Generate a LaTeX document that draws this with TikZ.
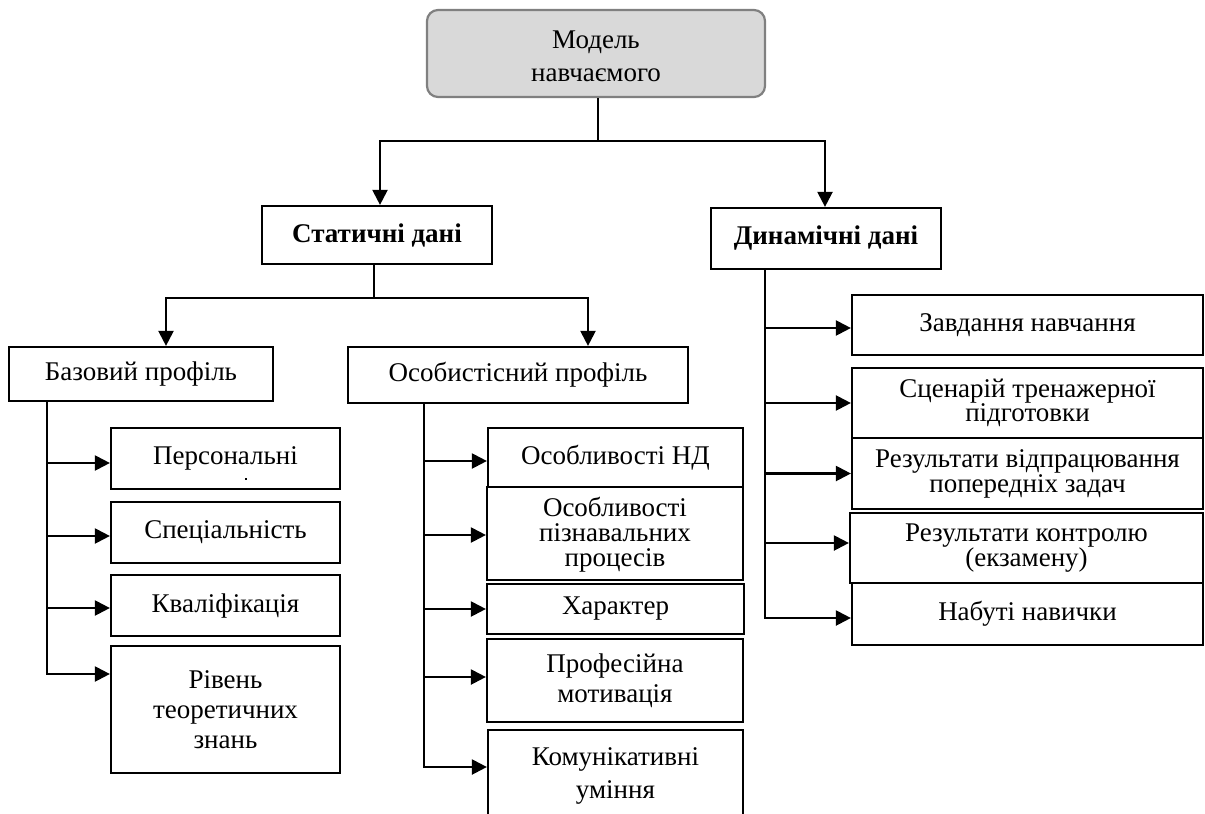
\documentclass[tikz,border=0pt]{standalone}
\usepackage{fontspec}
\setmainfont{Liberation Serif}
\usetikzlibrary{arrows.meta,calc}
\begin{document}
\begin{tikzpicture}[x=1pt,y=-1pt,
  box/.style={draw=black, line width=2.2pt, rectangle, inner sep=0pt, align=center,
    font=\fontsize{27}{30}\selectfont},
  topbox/.style={draw=black!50, fill=black!15, line width=2.2pt, rounded corners=11pt, inner sep=0pt, align=center,
    font=\fontsize{27}{33}\selectfont},
  bbox/.style={box, font=\fontsize{27}{30}\selectfont\bfseries},
  arr/.style={-{Triangle[length=15pt,width=15pt]}, line width=2.2pt},
  ls/.style={font=\fontsize{27}{#1}\selectfont}
]
\useasboundingbox (0,0) rectangle (1205,814);
\clip (0,0) rectangle (1205,814);

% top
\node[topbox, minimum width=338pt, minimum height=87pt] (top) at (596,53.5) {\raisebox{-5pt}[\height][\depth]{\begin{tabular}{@{}c@{}}Модель\\навчаємого\end{tabular}}};
\node[bbox, minimum width=230pt, minimum height=58pt] (stat) at (377,235) {Статичні дані};
\node[bbox, minimum width=230pt, minimum height=61pt] (dyn) at (826,238.5) {Динамічні дані};

% second level
\node[box, minimum width=264pt, minimum height=54pt] (baz) at (141,374) {Базовий профіль};
\node[box, minimum width=340pt, minimum height=56pt] (osob) at (518,375) {Особистісний профіль};

% left column
\node[box, minimum width=229pt, minimum height=61pt] (pers) at (225.5,458.5) {\raisebox{3pt}{Персональні}};
\fill (245,478) rectangle (247,480);
\node[box, minimum width=229pt, minimum height=61pt] (spec) at (225.5,532.5) {Спеціальність};
\node[box, minimum width=229pt, minimum height=61pt] (kval) at (225.5,605.5) {Кваліфікація};
\node[box, ls=30, minimum width=229pt, minimum height=127pt] (rivn) at (225.5,709.5) {Рівень\\теоретичних\\знань};

% middle column
\node[box, ls=25, minimum width=255pt, minimum height=59pt] (nd) at (615.5,457.5) {Особливості НД};
\node[box, ls=25, minimum width=256pt, minimum height=93pt] (pizn) at (615,533.5) {\raisebox{-2pt}[\height][\depth]{\begin{tabular}{@{}c@{}}Особливості\\пізнавальних\\процесів\end{tabular}}};
\node[box, minimum width=257pt, minimum height=50pt] (har) at (615.5,609) {Характер};
\node[box, ls=30, minimum width=256pt, minimum height=83pt] (prof) at (615,680.5) {Професійна\\мотивація};
\node[box, ls=33, minimum width=255pt, minimum height=92pt] (kom) at (615.5,776) {Комунікативні\\уміння};

% right column
\node[box, minimum width=351pt, minimum height=60pt] (zav) at (1027.5,325) {Завдання навчання};
\node[box, ls=23.5, minimum width=351pt, minimum height=70pt] (scen) at (1027.5,403) {Сценарій тренажерної\\підготовки};
\node[box, ls=25, minimum width=351pt, minimum height=71pt] (vidp) at (1027.5,473.5) {Результати відпрацювання\\попередніх задач};
\node[box, ls=23.5, minimum width=353pt, minimum height=70pt] (kontr) at (1026.5,548) {Результати контролю\\(екзамену)};
\node[box, minimum width=351pt, minimum height=62pt] (nab) at (1027.5,614) {Набуті навички};

% connectors level 1
\draw[arr] ([xshift=2pt]top.south) -- ++(0,43) coordinate (h1) -| ([xshift=3pt]stat.north);
\draw[arr] (h1) -| ([xshift=-1pt]dyn.north);

% level 2
\draw[arr] ([xshift=-3pt]stat.south) -- ++(0,33) coordinate (h2) -| ([xshift=25pt]baz.north);
\draw[arr] (h2) -| ([xshift=70pt]osob.north);

% entry points
\coordinate (pa) at ([yshift=-4.5pt]pers.west);
\coordinate (sa) at ([yshift=-3.5pt]spec.west);
\coordinate (ka) at ([yshift=-2.5pt]kval.west);
\coordinate (ra) at ([yshift=35.5pt]rivn.west);
\coordinate (nda) at ([yshift=-3.5pt]nd.west);
\coordinate (pza) at ([yshift=-1.5pt]pizn.west);
\coordinate (ha) at (har.west);
\coordinate (pra) at ([yshift=3.5pt]prof.west);
\coordinate (koa) at ([yshift=9pt]kom.west);
\coordinate (za) at ([yshift=-3pt]zav.west);
\coordinate (sca) at (scen.west);
\coordinate (va) at (vidp.west);
\coordinate (kta) at ([yshift=5pt]kontr.west);
\coordinate (na) at ([yshift=-4pt]nab.west);

% left spine
\coordinate (bs) at ([xshift=39pt]baz.south west);
\draw[arr] (bs) |- (ra);
\draw[arr] (bs |- pa) -- (pa);
\draw[arr] (bs |- sa) -- (sa);
\draw[arr] (bs |- ka) -- (ka);

% middle spine
\coordinate (ms) at ([xshift=77pt]osob.south west);
\draw[arr] (ms) |- (koa);
\draw[arr] (ms |- nda) -- (nda);
\draw[arr] (ms |- pza) -- (pza);
\draw[arr] (ms |- ha) -- (ha);
\draw[arr] (ms |- pra) -- (pra);

% right spine
\coordinate (rs) at ([xshift=55pt]dyn.south west);
\draw[arr] (rs) |- (na);
\draw[arr] (rs |- za) -- (za);
\draw[arr] (rs |- sca) -- (sca);
\draw[arr] (rs |- va) -- (va);
\draw[arr] (rs |- kta) -- (kta);
\end{tikzpicture}
\end{document}
